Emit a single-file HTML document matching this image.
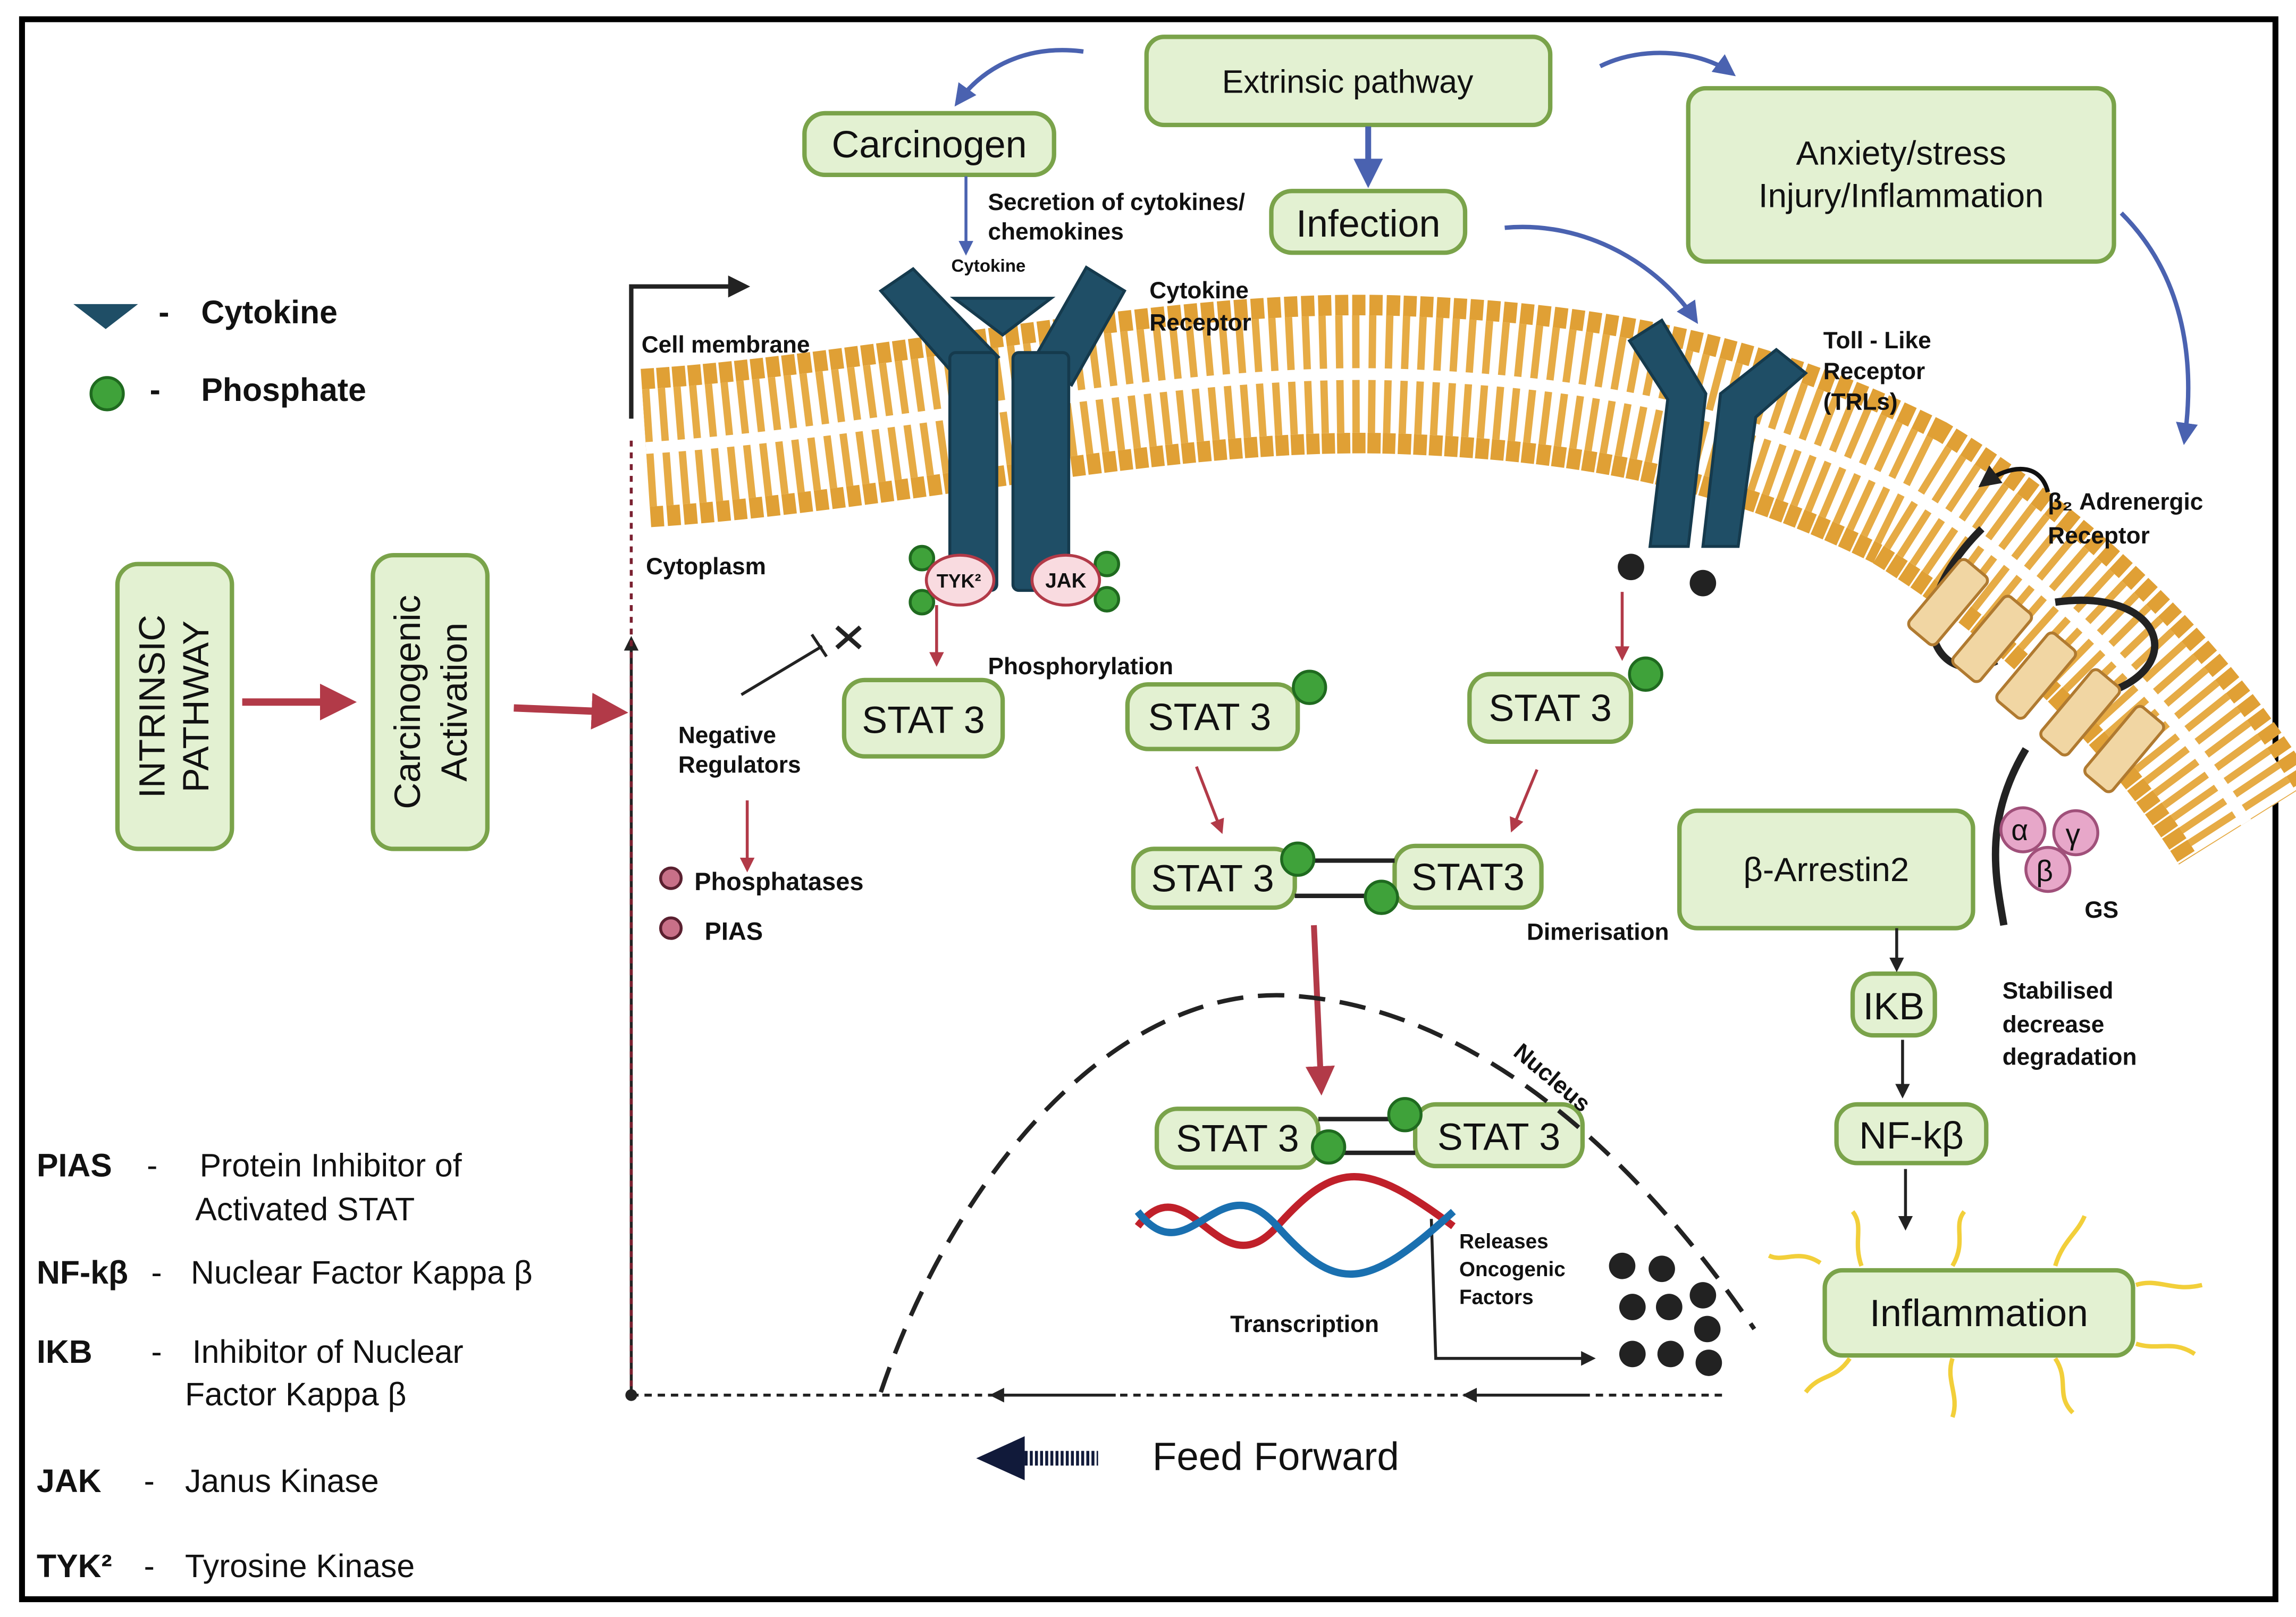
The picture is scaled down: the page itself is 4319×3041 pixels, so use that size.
<!DOCTYPE html>
<html><head><meta charset="utf-8"><style>
html,body{margin:0;padding:0;background:#fff}
svg{display:block}
text{font-family:"Liberation Sans",sans-serif;fill:#111}
.b{font-weight:bold}
</style></head><body>
<svg width="4319" height="3041" viewBox="0 0 1564 1101" xmlns="http://www.w3.org/2000/svg">
<defs>
<marker id="ab" viewBox="0 0 10 10" refX="8" refY="5" markerWidth="5" markerHeight="5" orient="auto"><path d="M0,0L10,5L0,10z" fill="#4a62b0"/></marker>
<marker id="ar" viewBox="0 0 10 10" refX="8" refY="5" markerWidth="5" markerHeight="5" orient="auto"><path d="M0,0L10,5L0,10z" fill="#b23a48"/></marker>
<marker id="ak" viewBox="0 0 10 10" refX="8" refY="5" markerWidth="5" markerHeight="5" orient="auto"><path d="M0,0L10,5L0,10z" fill="#222"/></marker>
</defs>
<rect x="15" y="13" width="1535" height="1076" fill="#fff" stroke="#000" stroke-width="4"/>

<!-- membrane -->
<g fill="none">
<path d="M440,305 C600,295 800,250 950,255 C1100,260 1200,285 1300,335 C1400,395 1480,480 1530,560" stroke="#e0a035" stroke-width="108" stroke-dasharray="9 2"/>
<path d="M440,305 C600,295 800,250 950,255 C1100,260 1200,285 1300,335 C1400,395 1480,480 1530,560" stroke="#fff" stroke-width="80"/>
<path d="M440,305 C600,295 800,250 950,255 C1100,260 1200,285 1300,335 C1400,395 1480,480 1530,560" stroke="#e6ab45" stroke-width="80" stroke-dasharray="5 6"/>
<path d="M440,305 C600,295 800,250 950,255 C1100,260 1200,285 1300,335 C1400,395 1480,480 1530,560" stroke="#fff" stroke-width="8"/>
</g>

<!-- cytokine receptor -->
<g fill="#1f4e66" stroke="#153a4d" stroke-width="2">
<polygon points="600,198 622,183 680,243 656,262"/>
<rect x="647" y="240" width="32" height="162" rx="4"/>
<polygon points="740,182 766,198 730,262 704,245"/>
<rect x="690" y="240" width="38" height="162" rx="4"/>
<polygon points="650,203 716,203 683,228"/>
<polygon points="1110,232 1132,218 1162,268 1150,372 1124,372 1136,272"/>
<polygon points="1172,268 1210,238 1230,254 1196,284 1184,372 1160,372"/>
</g>
<circle cx="1111" cy="386" r="9" fill="#222"/><circle cx="1160" cy="397" r="9" fill="#222"/>

<!-- beta2 adrenergic -->
<g fill="none" stroke="#222" stroke-width="5">
<path d="M1350,360 C1290,420 1320,470 1360,450"/>
<path d="M1400,410 C1470,400 1490,450 1440,470"/>
<path d="M1380,510 C1350,560 1360,600 1365,630"/>
</g>
<g fill="#f1d6a3" stroke="#b07a30" stroke-width="2">
<rect x="1315" y="380" width="24" height="60" rx="4" transform="rotate(40 1327 410)"/>
<rect x="1345" y="405" width="24" height="60" rx="4" transform="rotate(40 1357 435)"/>
<rect x="1375" y="430" width="24" height="60" rx="4" transform="rotate(40 1387 460)"/>
<rect x="1405" y="455" width="24" height="60" rx="4" transform="rotate(40 1417 485)"/>
<rect x="1435" y="480" width="24" height="60" rx="4" transform="rotate(40 1447 510)"/>
</g>
<path d="M1395,335 C1390,315 1370,315 1350,330" fill="none" stroke="#111" stroke-width="3" marker-end="url(#ak)"/>
<g fill="#e7a7c9" stroke="#a0507a" stroke-width="2">
<circle cx="1378" cy="565" r="15"/><circle cx="1414" cy="567" r="15"/><circle cx="1395" cy="592" r="15"/>
</g>
<text x="1370" y="572" font-size="20">α</text><text x="1407" y="575" font-size="20">γ</text><text x="1387" y="600" font-size="20">β</text>

<!-- green boxes -->
<g fill="#e3f1d2" stroke="#7aa34a" stroke-width="3">
<rect x="781" y="25" width="275" height="60" rx="12"/>
<rect x="548" y="77" width="170" height="42" rx="14"/>
<rect x="866" y="130" width="132" height="42" rx="14"/>
<rect x="1150" y="60" width="290" height="118" rx="12"/>
<rect x="80" y="384" width="78" height="194" rx="14"/>
<rect x="254" y="378" width="78" height="200" rx="14"/>
<rect x="575" y="463" width="108" height="52" rx="14"/>
<rect x="768" y="466" width="116" height="44" rx="14"/>
<rect x="1001" y="459" width="110" height="46" rx="14"/>
<rect x="772" y="578" width="110" height="40" rx="14"/>
<rect x="950" y="576" width="100" height="42" rx="14"/>
<rect x="788" y="755" width="110" height="40" rx="14"/>
<rect x="964" y="752" width="114" height="42" rx="14"/>
<rect x="1144" y="552" width="200" height="80" rx="12"/>
<rect x="1262" y="663" width="56" height="42" rx="14"/>
<rect x="1251" y="752" width="102" height="40" rx="14"/>
<rect x="1243" y="865" width="210" height="58" rx="12"/>
</g>
<g stroke="#222" stroke-width="3">
<line x1="882" y1="586" x2="950" y2="586"/><line x1="882" y1="610" x2="950" y2="610"/>
<line x1="898" y1="762" x2="964" y2="762"/><line x1="898" y1="785" x2="964" y2="785"/>
</g>
<g fill="#3fa23a" stroke="#1f6a1f" stroke-width="2">
<circle cx="892" cy="468" r="11"/><circle cx="1121" cy="459" r="11"/>
<circle cx="884" cy="585" r="11"/><circle cx="941" cy="611" r="11"/>
<circle cx="957" cy="759" r="11"/><circle cx="905" cy="781" r="11"/>
<circle cx="628" cy="380" r="8"/><circle cx="628" cy="410" r="8"/>
<circle cx="754" cy="384" r="8"/><circle cx="754" cy="408" r="8"/>
<circle cx="73" cy="268" r="11"/>
</g>
<g fill="#c87088" stroke="#5a2030" stroke-width="2">
<circle cx="457" cy="598" r="7"/><circle cx="457" cy="632" r="7"/>
</g>
<g fill="#f9dbe0" stroke="#b23a48" stroke-width="2">
<ellipse cx="654" cy="395" rx="23" ry="17"/><ellipse cx="726" cy="395" rx="23" ry="17"/>
</g>
<text x="638" y="400" font-size="13" class="b">TYK²</text><text x="712" y="400" font-size="14" class="b">JAK</text>
<polygon points="50,207 94,207 72,224" fill="#1f4e66"/>

<!-- box texts -->
<text x="918" y="63" font-size="22" text-anchor="middle">Extrinsic pathway</text>
<text x="633" y="107" font-size="26" text-anchor="middle">Carcinogen</text>
<text x="932" y="161" font-size="26" text-anchor="middle">Infection</text>
<text x="1295" y="112" font-size="23" text-anchor="middle">Anxiety/stress</text>
<text x="1295" y="141" font-size="23" text-anchor="middle">Injury/Inflammation</text>
<text transform="translate(112,481) rotate(-90)" font-size="25" text-anchor="middle">INTRINSIC</text>
<text transform="translate(142,481) rotate(-90)" font-size="25" text-anchor="middle">PATHWAY</text>
<text transform="translate(286,478) rotate(-90)" font-size="25" text-anchor="middle">Carcinogenic</text>
<text transform="translate(318,478) rotate(-90)" font-size="25" text-anchor="middle">Activation</text>
<g font-size="26" text-anchor="middle">
<text x="629" y="499">STAT 3</text><text x="824" y="497">STAT 3</text><text x="1056" y="491">STAT 3</text>
<text x="826" y="607">STAT 3</text><text x="1000" y="606">STAT3</text>
<text x="843" y="784">STAT 3</text><text x="1021" y="783">STAT 3</text>
<text x="1244" y="600" font-size="23">β-Arrestin2</text>
<text x="1290" y="694">IKB</text><text x="1302" y="782">NF-kβ</text>
<text x="1348" y="903">Inflammation</text>
</g>

<!-- labels -->
<g class="b" font-size="16">
<text x="673" y="143">Secretion of cytokines/</text><text x="673" y="163">chemokines</text>
<text x="648" y="185" font-size="12">Cytokine</text>
<text x="783" y="203">Cytokine</text><text x="783" y="225">Receptor</text>
<text x="437" y="240">Cell membrane</text>
<text x="440" y="391">Cytoplasm</text>
<text x="673" y="459">Phosphorylation</text>
<text x="462" y="506">Negative</text><text x="462" y="526">Regulators</text>
<text x="473" y="606" font-size="17">Phosphatases</text>
<text x="480" y="640" font-size="17">PIAS</text>
<text x="1242" y="237">Toll - Like</text><text x="1242" y="258">Receptor</text><text x="1242" y="279">(TRLs)</text>
<text x="1395" y="347">β₂ Adrenergic</text><text x="1395" y="370">Receptor</text>
<text x="1420" y="625">GS</text>
<text x="1040" y="640">Dimerisation</text>
<text x="1364" y="680">Stabilised</text><text x="1364" y="703">decrease</text><text x="1364" y="725">degradation</text>
<text x="1030" y="718" transform="rotate(40 1030 718)">Nucleus</text>
<text x="994" y="850" font-size="14">Releases</text><text x="994" y="869" font-size="14">Oncogenic</text><text x="994" y="888" font-size="14">Factors</text>
<text x="838" y="907">Transcription</text>
<text x="108" y="220" font-size="22">-</text><text x="137" y="220" font-size="22">Cytokine</text>
<text x="102" y="273" font-size="22">-</text><text x="137" y="273" font-size="22">Phosphate</text>
</g>
<g font-size="22">
<text x="25" y="801" class="b">PIAS</text><text x="100" y="801">-</text><text x="136" y="801">Protein Inhibitor of</text>
<text x="133" y="831">Activated STAT</text>
<text x="25" y="874" class="b">NF-kβ</text><text x="103" y="874">-</text><text x="130" y="874">Nuclear Factor Kappa β</text>
<text x="25" y="928" class="b">IKB</text><text x="103" y="928">-</text><text x="131" y="928">Inhibitor of Nuclear</text>
<text x="126" y="957">Factor  Kappa β</text>
<text x="25" y="1016" class="b">JAK</text><text x="98" y="1016">-</text><text x="126" y="1016">Janus Kinase</text>
<text x="25" y="1074" class="b">TYK²</text><text x="98" y="1074">-</text><text x="126" y="1074">Tyrosine Kinase</text>
<text x="785" y="1001" font-size="27">Feed Forward</text>
</g>

<!-- blue arrows -->
<g fill="none" stroke="#4a62b0" stroke-width="3" marker-end="url(#ab)">
<path d="M738,35 C700,30 670,45 652,70"/>
<path d="M932,86 L932,124" stroke-width="4"/>
<path d="M1090,45 C1120,30 1160,35 1180,50"/>
<path d="M1025,155 C1080,150 1130,180 1155,218"/>
<path d="M1445,145 C1490,190 1495,250 1488,300"/>
<path d="M658,120 L658,172" stroke-width="2"/>
</g>
<!-- red arrows -->
<g fill="none" stroke="#b23a48" stroke-width="2" marker-end="url(#ar)">
<path d="M638,412 L638,452"/>
<path d="M1105,403 L1105,448"/>
<path d="M509,545 L509,592"/>
<path d="M815,522 L832,566"/>
<path d="M1047,524 L1030,565"/>
<path d="M895,630 L900,742" stroke-width="4"/>
<path d="M165,478 L238,478" stroke-width="5"/>
<path d="M350,482 L423,485" stroke-width="5"/>
</g>
<!-- black arrows -->
<g fill="none" stroke="#222" stroke-width="2">
<path d="M1292,632 L1292,660" marker-end="url(#ak)"/>
<path d="M1296,708 L1296,746" marker-end="url(#ak)"/>
<path d="M1298,796 L1298,836" marker-end="url(#ak)"/>
<path d="M975,830 L978,925 L1085,925" marker-end="url(#ak)"/>
<path d="M430,285 L430,195 L508,195" stroke-width="3" marker-end="url(#ak)"/>
<path d="M430,950 L430,435" marker-end="url(#ak)"/>
<path d="M430,950 L1175,950" stroke-dasharray="5 4"/>
<path d="M760,950 L676,950" marker-end="url(#ak)"/>
<path d="M1080,950 L998,950" marker-end="url(#ak)"/>
<path d="M505,473 L560,440"/><path d="M553,432 L563,447"/>
<path d="M570,427 L586,441 M586,427 L570,441" stroke-width="3"/>
<path d="M600,948 C650,800 760,670 880,678 C1000,686 1110,780 1195,905" stroke-width="3" stroke-dasharray="18 10"/>
</g>
<path d="M430,300 L430,945" stroke="#7a2030" stroke-width="2" stroke-dasharray="4 4"/>
<circle cx="430" cy="950" r="4" fill="#222"/>
<polygon points="665,993 698,978 698,1008" fill="#111a3a"/>
<path d="M698,993 L748,993" stroke="#111a3a" stroke-width="10" stroke-dasharray="2 1.5"/>

<!-- DNA -->
<g fill="none" stroke-width="5">
<path d="M775,835 C810,790 830,880 870,835 S930,790 990,835" stroke="#c0202a"/>
<path d="M775,825 C810,870 830,790 870,835 S930,880 990,825" stroke="#1a70b0"/>
</g>
<g fill="#222">
<circle cx="1105" cy="862" r="9"/><circle cx="1132" cy="864" r="9"/><circle cx="1112" cy="890" r="9"/>
<circle cx="1137" cy="890" r="9"/><circle cx="1160" cy="882" r="9"/><circle cx="1112" cy="922" r="9"/>
<circle cx="1138" cy="922" r="9"/><circle cx="1164" cy="928" r="9"/><circle cx="1163" cy="905" r="9"/>
</g>
<g fill="none" stroke="#f2cf3a" stroke-width="3">
<path d="M1240,860 C1225,850 1215,860 1205,855"/><path d="M1268,862 C1262,845 1270,835 1262,825"/>
<path d="M1330,862 C1340,845 1330,835 1338,825"/><path d="M1400,862 C1405,845 1415,840 1420,828"/>
<path d="M1455,875 C1470,870 1480,880 1500,875"/><path d="M1455,915 C1470,920 1480,912 1495,922"/>
<path d="M1330,925 C1325,940 1335,950 1330,965"/><path d="M1400,925 C1410,940 1400,950 1412,962"/>
<path d="M1260,925 C1250,940 1240,935 1230,948"/>
</g>
</svg>
</body></html>
